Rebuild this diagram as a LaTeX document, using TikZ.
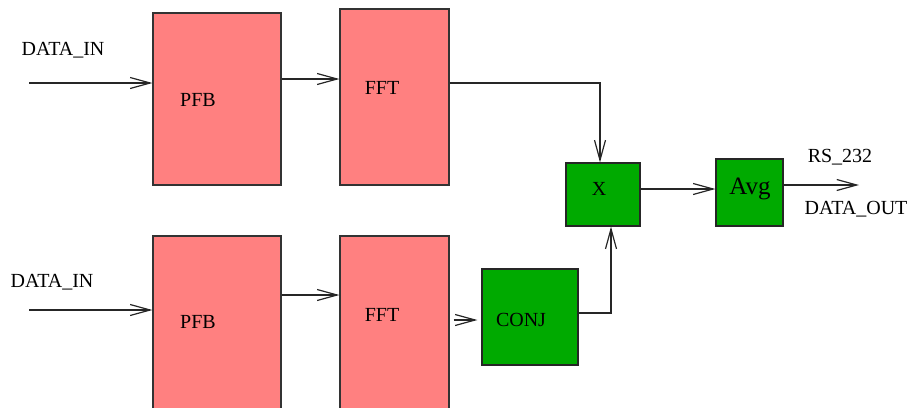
\documentclass[tikz,border=0pt]{standalone}
\usepackage{fontspec}
\setmainfont{Liberation Serif}
\usetikzlibrary{arrows.meta}
\definecolor{boxred}{HTML}{FF8080}
\definecolor{boxgreen}{HTML}{00AA00}
\tikzset{
  redbox/.style={draw=black!80, fill=boxred, line width=1.2pt, inner sep=0pt},
  greenbox/.style={draw=black!85, fill=boxgreen, line width=1.2pt, inner sep=0pt},
  lbl/.style={inner sep=0pt, font=\fontsize{20}{23}\selectfont},
  arr/.style={draw=black!85, line width=1.2pt, -{Straight Barb[length=20pt,width=11pt,line width=1.2pt]}},
  wire/.style={draw=black!85, line width=1.2pt}
}
\begin{document}
\begin{tikzpicture}[x=1pt,y={(0pt,-1pt)}]
\useasboundingbox (0,0) rectangle (907,407);
\begin{scope}
\clip (0,0) rectangle (907,407);
% boxes
\node[redbox, minimum width=128pt, minimum height=172pt] (pfb1) at (217,99) {};
\node[redbox, minimum width=109pt, minimum height=176pt] (fft1) at (394.5,97) {};
\node[redbox, minimum width=128pt, minimum height=176pt] (pfb2) at (217,324) {};
\node[redbox, minimum width=109pt, minimum height=176pt] (fft2) at (394.5,324) {};
\node[greenbox, minimum width=96pt, minimum height=96pt] (conj) at (530,317) {};
\node[greenbox, minimum width=74pt, minimum height=63pt] (xm) at (603,194.5) {};
\node[greenbox, minimum width=67pt, minimum height=67pt] (avg) at (749.5,192.5) {};
\end{scope}
% labels
\node[lbl] (lpfb1) at (198,100) {PFB};
\node[lbl] (lfft1) at (382,88) {FFT};
\node[lbl] (lpfb2) at (198,322) {PFB};
\node[lbl] (lfft2) at (382,315) {FFT};
\node[lbl] (lconj) at (521,320) {CONJ};
\node[lbl] (lx) at (599,189) {X};
\node[lbl, font=\fontsize{25}{28}\selectfont] (lavg) at (750,189) {Avg};
\node[lbl] (din1) at (63,50) {DATA\_IN};
\node[lbl] (din2) at (52,282) {DATA\_IN};
\node[lbl] (rs) at (840,157) {RS\_232};
\node[lbl] (dout) at (856,209) {DATA\_OUT};
% coordinates
\coordinate (in1) at (29,83);
\coordinate (in2) at (29,310);
\coordinate (out) at (859,185);
% connectors
\draw[arr] (in1) -- (in1 -| pfb1.west);
\draw[arr] (in2) -- (in2 -| pfb2.west);
\draw[arr] ([yshift=20pt]pfb1.east) -- ([yshift=18pt]fft1.west);
\draw[arr] ([yshift=29pt]pfb2.east) -- ([yshift=29pt]fft2.west);
\draw[arr] ([yshift=14pt]fft1.east) -| ([xshift=-3pt]xm.north);
\draw[arr, shorten <=4pt, shorten >=4pt] ([yshift=4pt]fft2.east) -- ([yshift=-3pt]conj.west);
\draw[arr] ([yshift=4pt]conj.east) -| ([xshift=8pt]xm.south);
\draw[arr] ([yshift=5.5pt]xm.east) -- ([yshift=3.5pt]avg.west);
\draw[arr] ([yshift=7.5pt]avg.east) -- (out);
\end{tikzpicture}
\end{document}
